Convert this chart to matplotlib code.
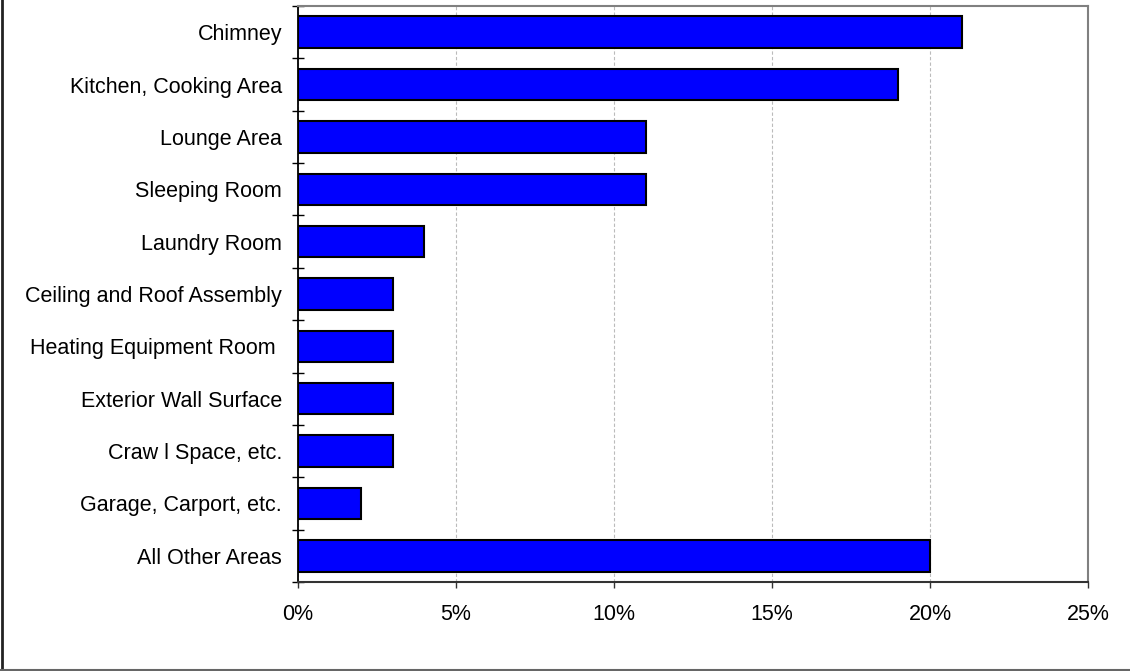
import matplotlib.pyplot as plt
from matplotlib.ticker import FixedLocator, PercentFormatter
from matplotlib.lines import Line2D

plt.rcParams['font.family'] = ['Liberation Sans', 'DejaVu Sans']

categories = ['Chimney', 'Kitchen, Cooking Area', 'Lounge Area', 'Sleeping Room',
              'Laundry Room', 'Ceiling and Roof Assembly', 'Heating Equipment Room ',
              'Exterior Wall Surface', 'Craw l Space, etc.', 'Garage, Carport, etc.',
              'All Other Areas']
values = [21, 19, 11, 11, 4, 3, 3, 3, 3, 2, 20]
xticks = [0, 5, 10, 15, 20, 25]

W, H = 1130, 671
fig = plt.figure(figsize=(W / 100, H / 100), dpi=100)
ax = fig.add_axes([298 / W, 1 - 582 / H, (1088 - 298) / W, (582 - 6) / H])

pos = list(range(len(categories)))
ax.barh(pos, values, height=0.6, color='#0000ff', edgecolor='black', linewidth=1.5, zorder=3)

ax.set_ylim(len(categories) - 0.5, -0.5)
ax.set_xlim(0, 25)

ax.set_yticks(pos)
ax.set_yticklabels(categories)
ax.yaxis.set_minor_locator(FixedLocator([p - 0.5 for p in range(len(categories) + 1)]))
ax.tick_params(axis='y', which='major', length=0, pad=11.5, labelsize=15.5)
ax.tick_params(axis='y', which='minor', direction='inout', length=9, width=1, color='black')

ax.set_xticks(xticks)
ax.xaxis.set_major_formatter(PercentFormatter(decimals=0))
ax.tick_params(axis='x', direction='out', length=4, width=1, color='#333333', pad=12, labelsize=15.5)

ax.grid(axis='x', color='#bbbbbb', linestyle=(0, (3, 2)), linewidth=0.8, zorder=0)

ax.spines['left'].set_color('black')
ax.spines['left'].set_linewidth(1.3)
ax.spines['bottom'].set_color('#333333')
ax.spines['bottom'].set_linewidth(1.5)
ax.spines['top'].set_color('#808080')
ax.spines['top'].set_linewidth(1.5)
ax.spines['right'].set_color('#808080')
ax.spines['right'].set_linewidth(1.5)

# partial outer frame (left and bottom edges)
fig.add_artist(Line2D([2 / W, 2 / W], [0, 1], transform=fig.transFigure, color='#222222', linewidth=2))
fig.add_artist(Line2D([0, 1], [1 - 669.5 / H, 1 - 669.5 / H], transform=fig.transFigure, color='#666666', linewidth=1.5))

fig.savefig('out.png', dpi=100)
